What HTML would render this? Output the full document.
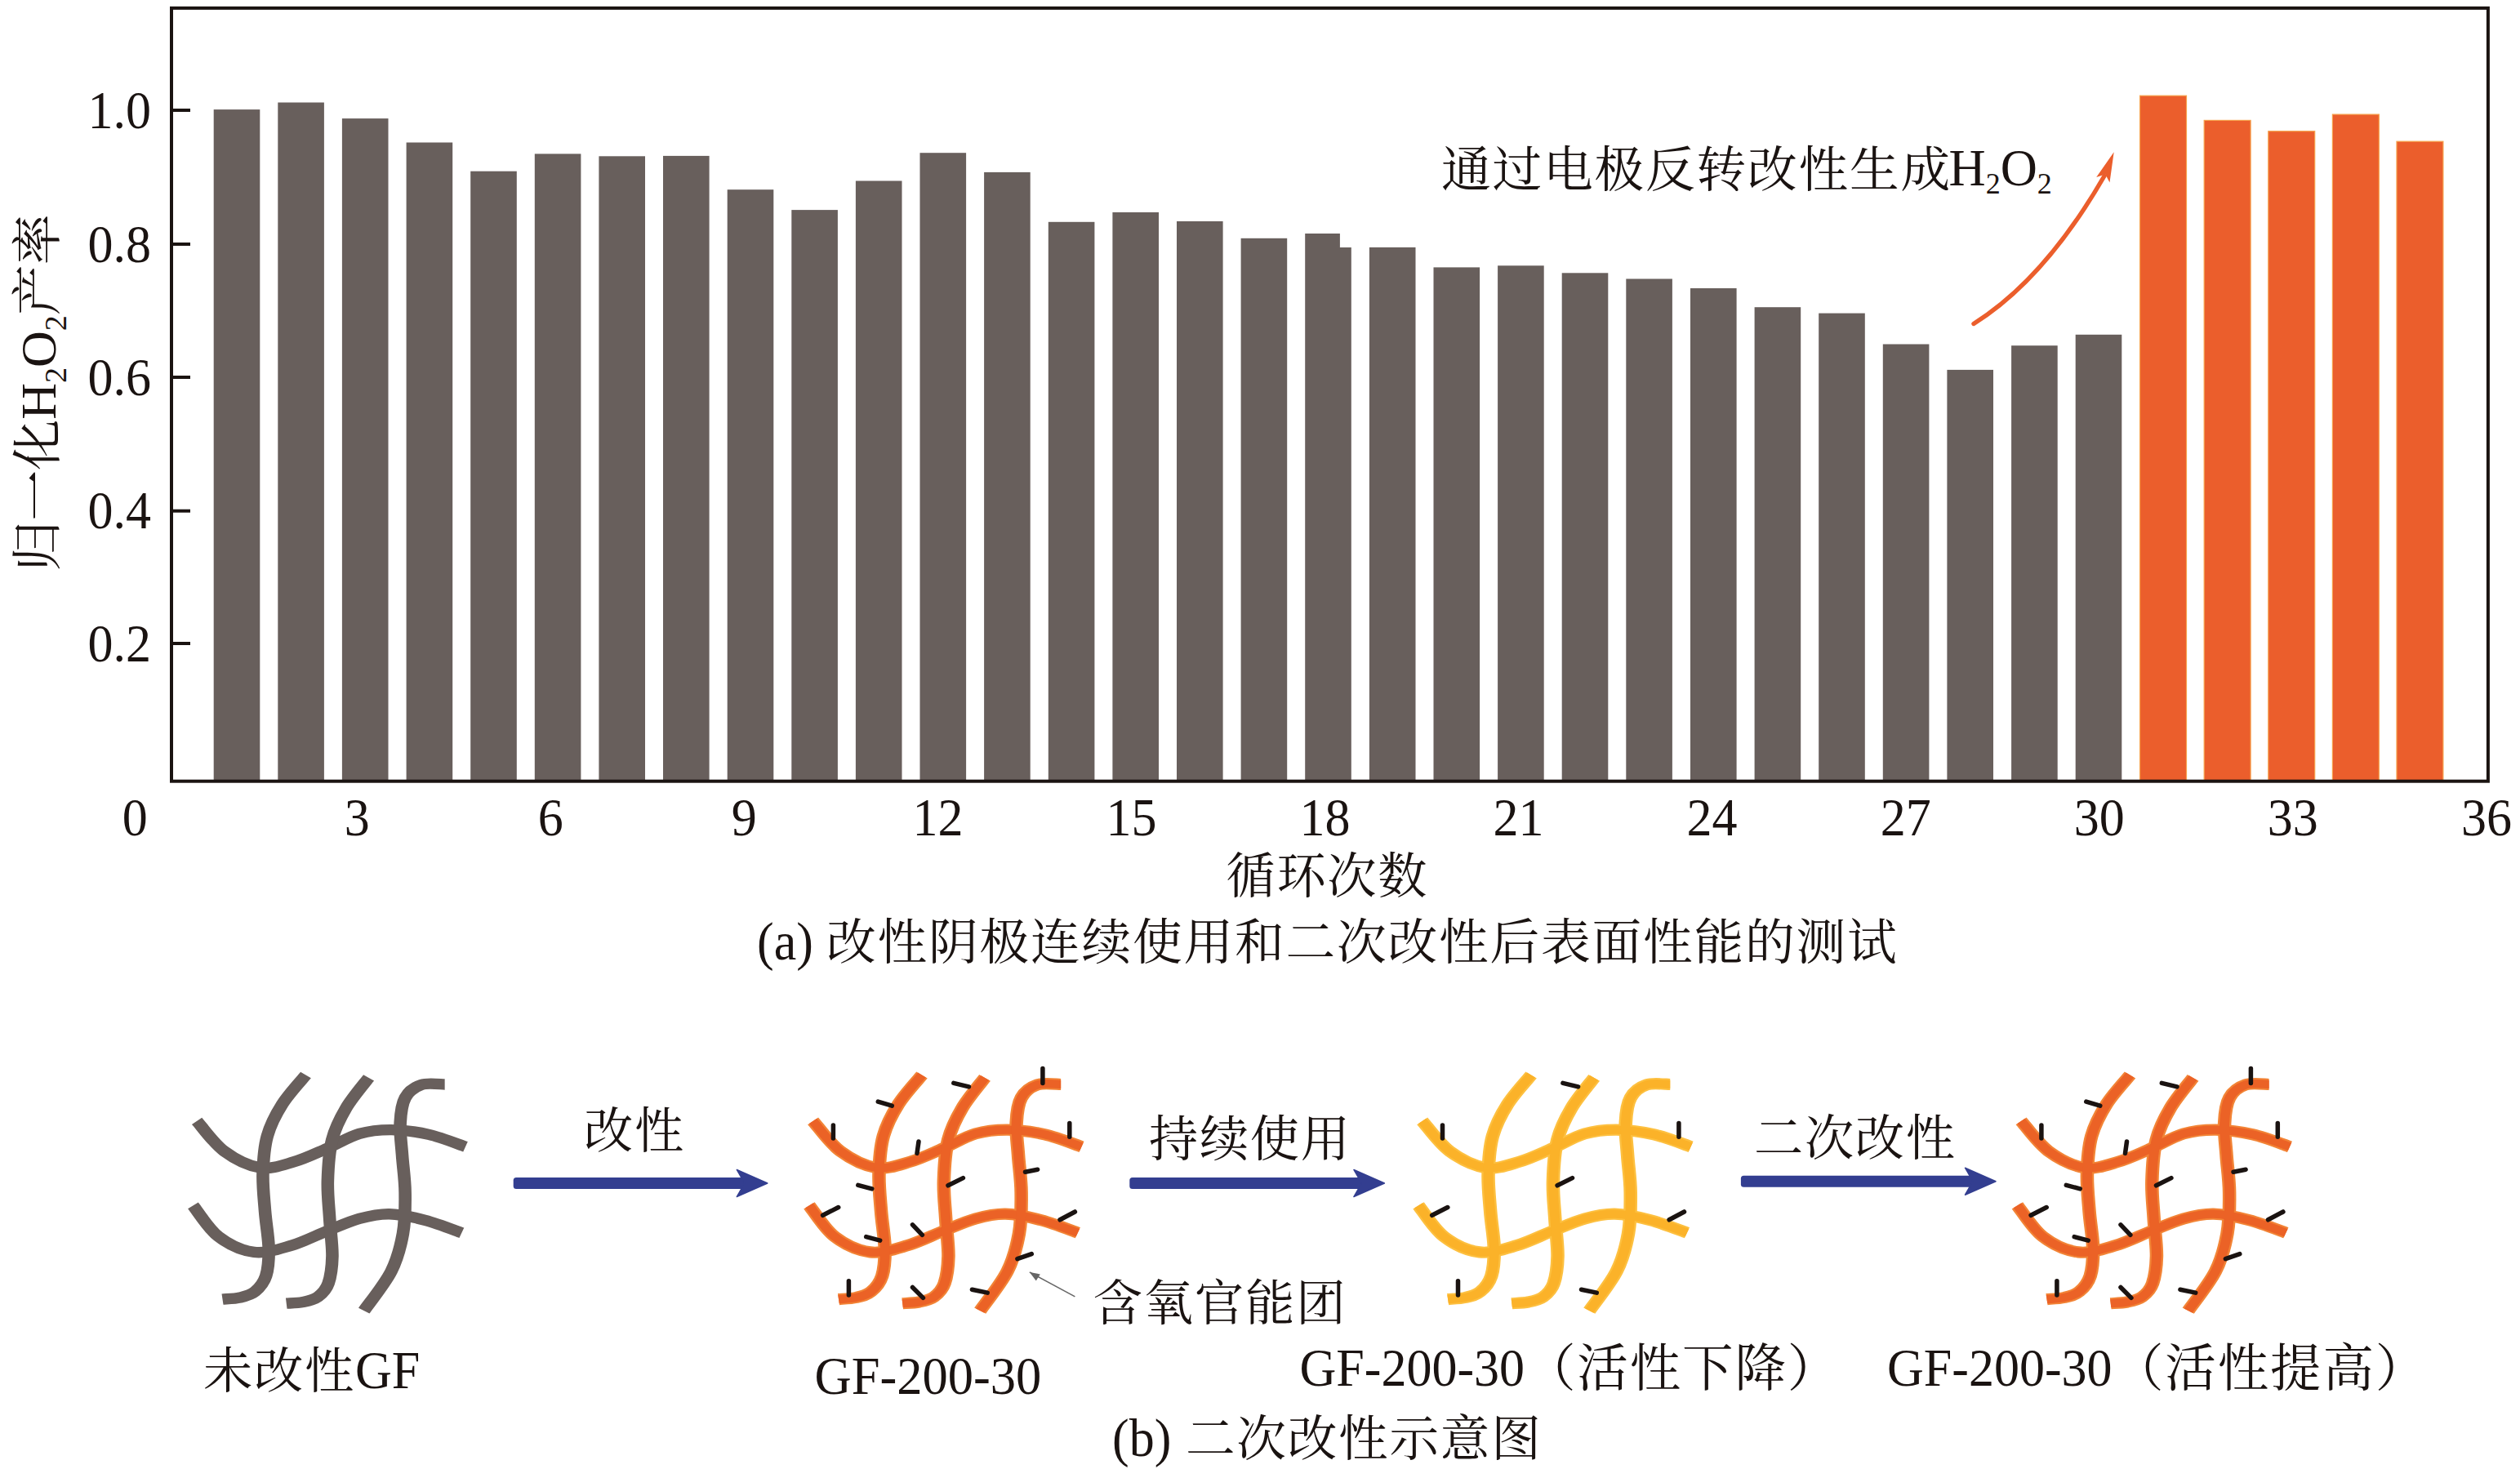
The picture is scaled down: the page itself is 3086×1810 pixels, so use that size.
<!DOCTYPE html>
<html lang="zh"><head><meta charset="utf-8"><title>figure</title>
<style>html,body{margin:0;padding:0;background:#fff}body{width:3086px;height:1810px;overflow:hidden}svg{display:block}text{font-family:"Liberation Serif","Noto Serif CJK SC",serif;fill:#1a1311}.cj{font-weight:400}</style></head><body>
<svg width="3086" height="1810" viewBox="0 0 3086 1810">
<rect width="3086" height="1810" fill="#fff"/>
<g fill="#685f5c">
<rect x="261.7" y="134.1" width="56.6" height="822.6"/>
<rect x="340.3" y="125.5" width="56.6" height="831.2"/>
<rect x="418.9" y="145.1" width="56.6" height="811.6"/>
<rect x="497.6" y="174.5" width="56.6" height="782.2"/>
<rect x="576.2" y="209.7" width="56.6" height="747.0"/>
<rect x="654.8" y="188.4" width="56.6" height="768.3"/>
<rect x="733.4" y="191.3" width="56.6" height="765.4"/>
<rect x="812.0" y="190.9" width="56.6" height="765.8"/>
<rect x="890.7" y="232.2" width="56.6" height="724.5"/>
<rect x="969.3" y="257.1" width="56.6" height="699.6"/>
<rect x="1047.9" y="221.5" width="56.6" height="735.2"/>
<rect x="1126.5" y="187.2" width="56.6" height="769.5"/>
<rect x="1205.1" y="210.9" width="56.6" height="745.8"/>
<rect x="1283.8" y="271.8" width="56.6" height="684.9"/>
<rect x="1362.4" y="260.0" width="56.6" height="696.7"/>
<rect x="1441.0" y="271.0" width="56.6" height="685.7"/>
<rect x="1519.6" y="291.8" width="56.6" height="664.9"/>
<path d="M1598.2 286.1 H1640.9 V302.9 H1654.8 V956.7 H1598.2 Z"/>
<rect x="1676.9" y="302.9" width="56.6" height="653.8"/>
<rect x="1755.5" y="327.4" width="56.6" height="629.3"/>
<rect x="1834.1" y="325.3" width="56.6" height="631.4"/>
<rect x="1912.7" y="334.3" width="56.6" height="622.4"/>
<rect x="1991.3" y="341.5" width="56.6" height="615.2"/>
<rect x="2070.0" y="353.0" width="56.6" height="603.7"/>
<rect x="2148.6" y="376.2" width="56.6" height="580.5"/>
<rect x="2227.2" y="383.6" width="56.6" height="573.1"/>
<rect x="2305.8" y="421.5" width="56.6" height="535.2"/>
<rect x="2384.4" y="452.9" width="56.6" height="503.8"/>
<rect x="2463.1" y="423.2" width="56.6" height="533.5"/>
<rect x="2541.7" y="409.8" width="56.6" height="546.9"/>
</g>
<g fill="#eb5e2c" stroke="#f6a04a" stroke-width="1.2">
<rect x="2620.6" y="117.2" width="56.9" height="839.5"/>
<rect x="2699.2" y="147.4" width="56.9" height="809.3"/>
<rect x="2777.8" y="160.7" width="56.9" height="796.0"/>
<rect x="2856.4" y="140.1" width="56.9" height="816.6"/>
<rect x="2935.0" y="173.2" width="56.9" height="783.5"/>
</g>
<rect x="210.0" y="9.9" width="2836.9" height="946.8" fill="none" stroke="#1a1311" stroke-width="4"/>
<g stroke="#1a1311" stroke-width="4">
<line x1="210.0" y1="135.0" x2="233.0" y2="135.0"/>
<line x1="210.0" y1="299.0" x2="233.0" y2="299.0"/>
<line x1="210.0" y1="462.0" x2="233.0" y2="462.0"/>
<line x1="210.0" y1="625.7" x2="233.0" y2="625.7"/>
<line x1="210.0" y1="788.0" x2="233.0" y2="788.0"/>
</g>
<text font-size="62.0" text-anchor="end" transform="translate(185.0 156.5) scale(1 1.040)">1.0</text>
<text font-size="62.0" text-anchor="end" transform="translate(185.0 320.5) scale(1 1.040)">0.8</text>
<text font-size="62.0" text-anchor="end" transform="translate(185.0 483.5) scale(1 1.040)">0.6</text>
<text font-size="62.0" text-anchor="end" transform="translate(185.0 647.2) scale(1 1.040)">0.4</text>
<text font-size="62.0" text-anchor="end" transform="translate(185.0 809.5) scale(1 1.040)">0.2</text>
<text font-size="62.0" text-anchor="middle" transform="translate(165.3 1022.8) scale(1 1.040)">0</text>
<text font-size="62.0" text-anchor="middle" transform="translate(437.2 1022.8) scale(1 1.040)">3</text>
<text font-size="62.0" text-anchor="middle" transform="translate(674.3 1022.8) scale(1 1.040)">6</text>
<text font-size="62.0" text-anchor="middle" transform="translate(911.3 1022.8) scale(1 1.040)">9</text>
<text font-size="62.0" text-anchor="middle" transform="translate(1148.4 1022.8) scale(1 1.040)">12</text>
<text font-size="62.0" text-anchor="middle" transform="translate(1385.4 1022.8) scale(1 1.040)">15</text>
<text font-size="62.0" text-anchor="middle" transform="translate(1622.5 1022.8) scale(1 1.040)">18</text>
<text font-size="62.0" text-anchor="middle" transform="translate(1859.6 1022.8) scale(1 1.040)">21</text>
<text font-size="62.0" text-anchor="middle" transform="translate(2096.6 1022.8) scale(1 1.040)">24</text>
<text font-size="62.0" text-anchor="middle" transform="translate(2333.7 1022.8) scale(1 1.040)">27</text>
<text font-size="62.0" text-anchor="middle" transform="translate(2570.7 1022.8) scale(1 1.040)">30</text>
<text font-size="62.0" text-anchor="middle" transform="translate(2807.8 1022.8) scale(1 1.040)">33</text>
<text font-size="62.0" text-anchor="middle" transform="translate(3044.9 1022.8) scale(1 1.040)">36</text>
<text class="cj" font-size="60.26" letter-spacing="1.74" x="1501.4" y="1094.0">循环次数</text>
<text class="cj" font-size="62" text-anchor="middle" transform="translate(68 481) rotate(-90)">归一化H<tspan font-size="38" dy="13">2</tspan><tspan dy="-13">O</tspan><tspan font-size="38" dy="13">2</tspan><tspan dy="-13">产率</tspan></text>
<text class="cj" font-size="60.75" letter-spacing="1.75" x="1764.9" y="228.5">通过电极反转改性生成</text>
<text font-size="62.5" text-anchor="start" transform="translate(2386.5 227.3) scale(1 1.000)">H<tspan font-size="36" dy="10">2</tspan><tspan dy="-10">O</tspan><tspan font-size="36" dy="10">2</tspan></text>
<path d="M2417 396.5 Q2503.9 342.1 2577 215.5" fill="none" stroke="#eb5e2c" stroke-width="5.4" stroke-linecap="round"/>
<path d="M2588.7 186.2 L2567.2 217.1 L2578.2 213.6 L2583.5 223.6 Z" fill="#eb5e2c"/>
<text font-size="62.0" text-anchor="start" transform="translate(927.0 1174.8) scale(1 1.040)">(a)</text>
<text class="cj" font-size="60.75" letter-spacing="1.75" x="1011.9" y="1174.8">改性阴极连续使用和二次改性后表面性能的测试</text>
<defs><path id="mh" d="M26.7 1372.8 C31.5 1378.9 44.3 1400.1 55.3 1409.6 C66.4 1419.1 80.7 1427.6 92.9 1429.9 C105.1 1432.1 116.6 1426.9 128.4 1422.9 C140.3 1419.0 152.5 1411.9 164.0 1406.2 C175.5 1400.4 186.4 1392.2 197.6 1388.4 C208.8 1384.7 219.0 1383.5 231.2 1383.6 C243.4 1383.8 257.7 1385.9 270.7 1389.4 C283.7 1392.8 302.8 1401.8 309.3 1404.3 M22.7 1476.3 C27.2 1482.6 38.7 1504.8 49.4 1514.3 C60.1 1523.8 74.1 1531.6 86.9 1533.4 C99.8 1535.2 113.6 1529.4 126.5 1525.1 C139.3 1520.7 152.2 1512.8 164.0 1507.4 C175.9 1501.9 186.7 1495.9 197.6 1492.4 C208.5 1489.0 217.7 1486.4 229.2 1486.7 C240.8 1487.0 254.1 1490.4 266.8 1494.3 C279.5 1498.1 298.9 1507.1 305.3 1509.7" fill="none"/><path id="mv" d="M141.3 1316.5 C137.2 1322.4 123.3 1339.6 116.6 1352.1 C109.8 1364.6 104.2 1377.0 100.8 1391.2 C97.4 1405.4 96.6 1421.9 96.2 1437.2 C95.8 1452.5 97.4 1467.9 98.4 1483.2 C99.4 1498.5 102.2 1516.0 102.4 1529.2 C102.5 1542.4 101.8 1553.8 99.4 1562.6 C97.0 1571.3 92.5 1577.3 87.9 1581.7 C83.4 1586.1 77.8 1587.5 72.1 1589.0 C66.4 1590.6 56.8 1590.7 53.7 1591.1 M207.5 1319.9 C203.5 1326.0 190.2 1344.1 183.8 1356.7 C177.4 1369.4 172.2 1380.9 169.0 1395.8 C165.7 1410.8 164.8 1430.3 164.4 1446.4 C164.0 1462.5 165.6 1477.1 166.4 1492.4 C167.2 1507.7 169.4 1525.2 169.2 1538.4 C168.9 1551.6 167.5 1563.5 165.0 1571.8 C162.5 1580.1 158.6 1584.3 154.1 1588.1 C149.7 1591.9 143.9 1593.2 138.3 1594.5 C132.8 1595.9 123.8 1595.9 120.9 1596.2 M287.5 1328.0 C283.4 1328.0 269.7 1325.7 262.8 1328.4 C255.9 1331.1 249.7 1336.3 246.0 1344.1 C242.3 1351.8 241.2 1363.4 240.7 1375.1 C240.1 1386.8 241.8 1400.0 242.7 1414.2 C243.5 1428.4 245.7 1444.1 245.8 1460.2 C246.0 1476.3 245.9 1494.7 243.5 1510.8 C241.0 1526.9 238.0 1541.1 231.2 1556.8 C224.4 1572.5 207.3 1597.1 202.5 1605.1" fill="none"/></defs>
<g transform="translate(210 0) scale(1.164 1)"><use href="#mh" stroke="#685f5c" stroke-width="13.4"/><use href="#mv" stroke="#685f5c" stroke-width="13.4"/></g>
<g transform="translate(964.5 0) scale(1.164 1)">
<use href="#mh" stroke="#f28436" stroke-width="14.2"/><use href="#mv" stroke="#f28436" stroke-width="14.2"/>
<use href="#mh" stroke="#eb6226" stroke-width="10.2"/><use href="#mv" stroke="#eb6226" stroke-width="10.2"/>
</g>
<path transform="translate(754.5 0)" d="M320.8 1349.1 L337.8 1354.2 M413.3 1326.4 L432.0 1330.9 M522.4 1308.5 L522.4 1326.5 M265.9 1378.0 L265.9 1394.1 M370.5 1398.0 L368.5 1412.4 M555.3 1375.4 L555.3 1392.2 M501.0 1435.2 L516.1 1432.3 M296.3 1451.4 L313.3 1455.9 M406.5 1451.8 L424.9 1442.6 M253.1 1488.3 L272.2 1478.5 M363.0 1499.8 L374.9 1512.3 M543.5 1493.8 L561.9 1484.0 M306.2 1514.6 L323.2 1519.1 M491.4 1541.6 L508.8 1535.6 M284.9 1568.7 L284.9 1585.9 M363.0 1576.5 L375.9 1589.4 M435.9 1579.2 L454.7 1583.1" stroke="#1a1311" stroke-width="5.5" stroke-linecap="round" fill="none"/>
<g transform="translate(1710.6 0) scale(1.164 1)">
<use href="#mh" stroke="#fdc040" stroke-width="14.2"/><use href="#mv" stroke="#fdc040" stroke-width="14.2"/>
<use href="#mh" stroke="#fbb229" stroke-width="10.2"/><use href="#mv" stroke="#fbb229" stroke-width="10.2"/>
</g>
<path transform="translate(1500.6 0)" d="M413.3 1326.4 L432.0 1330.9 M265.9 1378.0 L265.9 1394.1 M555.3 1375.4 L555.3 1392.2 M406.5 1451.8 L424.9 1442.6 M253.1 1488.3 L272.2 1478.5 M543.5 1493.8 L561.9 1484.0 M284.9 1568.7 L284.9 1585.9 M435.9 1579.2 L454.7 1583.1" stroke="#1a1311" stroke-width="5.5" stroke-linecap="round" fill="none"/>
<g transform="translate(2444.0 0) scale(1.164 1)">
<use href="#mh" stroke="#f28436" stroke-width="14.2"/><use href="#mv" stroke="#f28436" stroke-width="14.2"/>
<use href="#mh" stroke="#eb6226" stroke-width="10.2"/><use href="#mv" stroke="#eb6226" stroke-width="10.2"/>
</g>
<path transform="translate(2234.0 0)" d="M320.8 1349.1 L337.8 1354.2 M413.3 1326.4 L432.0 1330.9 M522.4 1308.5 L522.4 1326.5 M265.9 1378.0 L265.9 1394.1 M370.5 1398.0 L368.5 1412.4 M555.3 1375.4 L555.3 1392.2 M501.0 1435.2 L516.1 1432.3 M296.3 1451.4 L313.3 1455.9 M406.5 1451.8 L424.9 1442.6 M253.1 1488.3 L272.2 1478.5 M363.0 1499.8 L374.9 1512.3 M543.5 1493.8 L561.9 1484.0 M306.2 1514.6 L323.2 1519.1 M491.4 1541.6 L508.8 1535.6 M284.9 1568.7 L284.9 1585.9 M363.0 1576.5 L375.9 1589.4 M435.9 1579.2 L454.7 1583.1" stroke="#1a1311" stroke-width="5.5" stroke-linecap="round" fill="none"/>
<rect x="628.7" y="1442.0" width="288.1" height="14" rx="3.5" fill="#333e90"/>
<path d="M939.8 1449.0 L902.3 1432.5 L911.8 1449.0 L902.3 1465.5 Z" fill="#333e90" stroke="#333e90" stroke-width="1.5" stroke-linejoin="round"/>
<rect x="1383.3" y="1442.0" width="289.1" height="14" rx="3.5" fill="#333e90"/>
<path d="M1695.4 1449.0 L1657.9 1432.5 L1667.4 1449.0 L1657.9 1465.5 Z" fill="#333e90" stroke="#333e90" stroke-width="1.5" stroke-linejoin="round"/>
<rect x="2131.9" y="1439.7" width="289.1" height="14" rx="3.5" fill="#333e90"/>
<path d="M2444.0 1446.7 L2406.5 1430.2 L2416.0 1446.7 L2406.5 1463.2 Z" fill="#333e90" stroke="#333e90" stroke-width="1.5" stroke-linejoin="round"/>
<path d="M1316.4 1587.9 L1260.8 1557.9" stroke="#666" stroke-width="1.6" fill="none"/>
<path d="M1260.8 1557.9 l13 2.5 l-5 8 Z" fill="#666"/>
<text class="cj" font-size="60.26" letter-spacing="1.74" x="714.9" y="1405.5">改性</text>
<text class="cj" font-size="60.26" letter-spacing="1.74" x="1406.9" y="1415.5">持续使用</text>
<text class="cj" font-size="60.26" letter-spacing="1.74" x="2147.9" y="1415.0">二次改性</text>
<text class="cj" font-size="60.46" letter-spacing="1.74" x="1338.4" y="1616.5">含氧官能团</text>
<text class="cj" font-size="60.36" letter-spacing="1.74" x="248.9" y="1700.0">未改性</text>
<text font-size="62.0" text-anchor="start" transform="translate(435.0 1700.0) scale(1 1.040)">GF</text>
<text font-size="62.5" text-anchor="start" transform="translate(997.5 1707.0) scale(1 1.040)">GF-200-30</text>
<text font-size="62.0" text-anchor="start" transform="translate(1591.5 1696.5) scale(1 1.040)">GF-200-30</text>
<text class="cj" font-size="62.60" letter-spacing="1.80" x="1866.9" y="1696.5">（活性下降）</text>
<text font-size="62.0" text-anchor="start" transform="translate(2311.0 1696.5) scale(1 1.040)">GF-200-30</text>
<text class="cj" font-size="62.60" letter-spacing="1.80" x="2586.9" y="1696.5">（活性提高）</text>
<text font-size="62.0" text-anchor="start" transform="translate(1362.0 1782.5) scale(1 1.040)">(b)</text>
<text class="cj" font-size="60.65" letter-spacing="1.75" x="1451.9" y="1782.5">二次改性示意图</text>
</svg></body></html>
